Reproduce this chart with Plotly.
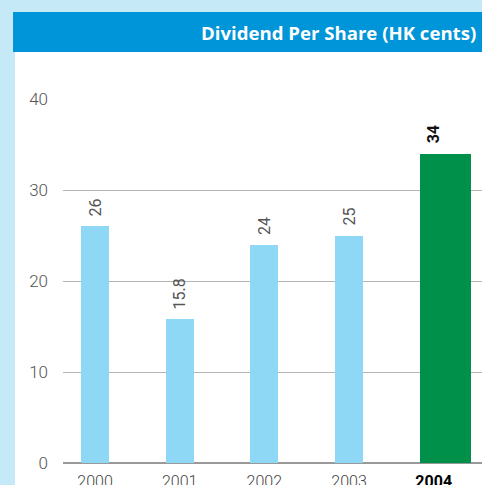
import plotly.graph_objects as go

years = ["2000", "2001", "2002", "2003", "2004"]
dividends = [26, 15.8, 24, 25, 34]
value_labels = ["26", "15.8", "24", "25", "<b>34</b>"]
tick_labels = ["2000", "2001", "2002", "2003", "<b>2004</b>"]
y_ticks = [0, 10, 20, 30, 40]

bar_colors = ["#8fd8f5", "#8fd8f5", "#8fd8f5", "#8fd8f5", "#00904a"]
bar_widths = [0.33, 0.33, 0.33, 0.33, 0.60]
bar_offsets = [-0.165, -0.165, -0.165, -0.165, -0.162]
label_colors = ["#555555", "#555555", "#555555", "#555555", "#111111"]
tick_colors = ["#444444", "#444444", "#444444", "#444444", "#000000"]

FONT = "Roboto, 'Liberation Sans', sans-serif"

fig = go.Figure()
fig.add_trace(go.Bar(
    x=years, y=dividends,
    marker=dict(color=bar_colors, line=dict(width=0)),
    width=bar_widths, offset=bar_offsets,
    hoverinfo="skip",
))

for i, (val, lab, col) in enumerate(zip(dividends, value_labels, label_colors)):
    fig.add_annotation(
        x=i, y=val, text=lab, textangle=-90, showarrow=False,
        xanchor="center", yanchor="bottom", yshift=8,
        font=dict(family=FONT, size=16, color=col),
    )

# background panels
fig.add_shape(type="rect", xref="paper", yref="paper",
              x0=-0.1146, x1=1.02, y0=-0.08, y1=1.129,
              fillcolor="white", line=dict(width=0), layer="below")
fig.add_shape(type="rect", xref="paper", yref="paper",
              x0=-0.1193, x1=1.02, y0=1.129, y1=1.239,
              fillcolor="#0095d8", line=dict(width=0), layer="below")
fig.add_annotation(
    xref="paper", yref="paper", x=0.9905, y=1.184,
    xanchor="right", yanchor="middle", showarrow=False,
    text="<b>Dividend Per Share (HK cents)</b>",
    font=dict(family="'Open Sans', sans-serif", size=18.6, color="white"),
)

fig.update_layout(
    width=482, height=485,
    margin=dict(l=63, r=0, t=99, b=22),
    paper_bgcolor="#c6e9f8",
    plot_bgcolor="white",
    showlegend=False,
    bargap=0,
    font=dict(family=FONT, size=16, color="#444444"),
)
fig.update_xaxes(
    type="category", range=[-0.378, 4.57], automargin=False,
    tickmode="array", tickvals=years,
    ticktext=[f"<span style='color:{c}'>{t}</span>" for t, c in zip(tick_labels, tick_colors)],
    showgrid=False, showline=False, zeroline=False, ticks="",
    ticklabelstandoff=7,
    tickfont=dict(family=FONT, size=16, weight=300),
)
fig.update_yaxes(
    range=[0, 40], tickmode="array", tickvals=y_ticks, automargin=False,
    showgrid=True, gridcolor="#b4b4b4", gridwidth=1,
    zeroline=True, zerolinecolor="#999999", zerolinewidth=1.5,
    showline=False, ticks="", ticklabelstandoff=14,
    tickfont=dict(family=FONT, size=17, color="#555555", weight=300),
)

fig.write_html(
    "out.html",
    config={"displayModeBar": False},
    post_script="document.body.style.margin='0px';document.body.style.overflow='hidden';",
)
